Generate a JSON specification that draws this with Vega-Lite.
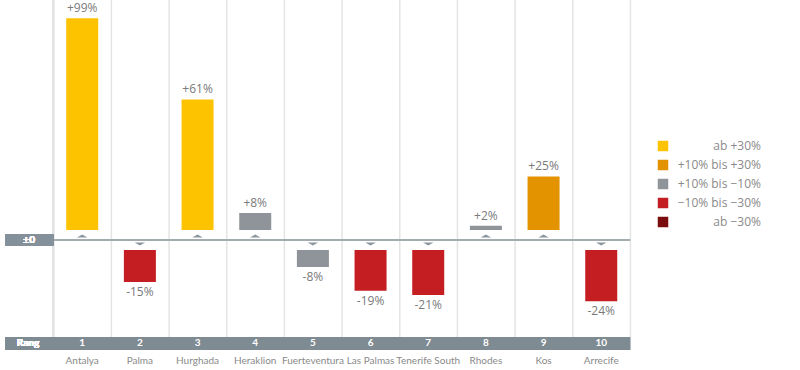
{
  "$schema": "https://vega.github.io/schema/vega-lite/v6.json",
  "width": 800,
  "height": 370,
  "autosize": {"type": "none"},
  "padding": 0,
  "config": {"view": {"stroke": null}, "font": "Open Sans", "text": {"font": "Open Sans"}},
  "data": {
    "values": [
      {"rank": 1, "city": "Antalya", "value": 99, "label": "+99%", "cat": "ab +30%"},
      {"rank": 2, "city": "Palma", "value": -15, "label": "-15%", "cat": "−10% bis −30%"},
      {"rank": 3, "city": "Hurghada", "value": 61, "label": "+61%", "cat": "ab +30%"},
      {"rank": 4, "city": "Heraklion", "value": 8, "label": "+8%", "cat": "+10% bis −10%"},
      {"rank": 5, "city": "Fuerteventura", "value": -8, "label": "-8%", "cat": "+10% bis −10%"},
      {"rank": 6, "city": "Las Palmas", "value": -19, "label": "-19%", "cat": "−10% bis −30%"},
      {"rank": 7, "city": "Tenerife South", "value": -21, "label": "-21%", "cat": "−10% bis −30%"},
      {"rank": 8, "city": "Rhodes", "value": 2, "label": "+2%", "cat": "+10% bis −10%"},
      {"rank": 9, "city": "Kos", "value": 25, "label": "+25%", "cat": "+10% bis +30%"},
      {"rank": 10, "city": "Arrecife", "value": -24, "label": "-24%", "cat": "−10% bis −30%"}
    ]
  },
  "layer": [
    {
      "mark": {"type": "rule", "xOffset": 29.2, "color": "#e4e4e4", "strokeWidth": 1.5},
      "encoding": {
        "x": {"field": "rank", "type": "quantitative", "scale": {"domain": [-0.339, 13.36], "nice": false, "zero": false}, "axis": null},
        "y": {"datum": 112.15, "type": "quantitative", "scale": {"domain": [-60.75, 112.15], "nice": false, "zero": false}, "axis": null},
        "y2": {"datum": -45.3}
      }
    },
    {
      "mark": {"type": "rule", "color": "#e4e4e4", "strokeWidth": 1.5},
      "encoding": {
        "x": {"datum": 0.5, "type": "quantitative"},
        "y": {"datum": 112.15, "type": "quantitative"},
        "y2": {"datum": -45.3}
      }
    },
    {
      "mark": {"type": "rule", "color": "#a3abb0", "strokeWidth": 1},
      "encoding": {
        "x": {"datum": 0.5, "type": "quantitative"},
        "x2": {"datum": 10.5},
        "y": {"datum": 0, "type": "quantitative"}
      }
    },
    {
      "mark": {"type": "rect", "color": "#85919a"},
      "encoding": {
        "x": {"datum": -0.339, "type": "quantitative"},
        "x2": {"datum": 0.5},
        "y": {"datum": 2.8, "type": "quantitative"},
        "y2": {"datum": -2.8}
      }
    },
    {
      "mark": {"type": "text", "color": "white", "fontSize": 10, "fontWeight": "bold", "baseline": "middle", "align": "center", "font": "Lato"},
      "encoding": {
        "x": {"datum": 0.08, "type": "quantitative"},
        "y": {"datum": 0, "type": "quantitative"},
        "text": {"value": "±0"}
      }
    },
    {
      "transform": [{"filter": "datum.value > 0"}],
      "mark": {"type": "bar", "width": 32, "yOffset": -10, "y2Offset": -10},
      "encoding": {
        "x": {"field": "rank", "type": "quantitative"},
        "y": {"field": "value", "type": "quantitative"},
        "y2": {"datum": 0},
        "color": {
          "field": "cat", "type": "nominal",
          "scale": {
            "domain": ["ab +30%", "+10% bis +30%", "+10% bis −10%", "−10% bis −30%", "ab −30%"],
            "range": ["#fdc300", "#e39200", "#8e9499", "#c41e23", "#7a0e0e"]
          },
          "legend": {
            "orient": "none", "legendX": 657, "legendY": 140, "title": null,
            "symbolType": "square", "symbolSize": 110, "symbolStrokeWidth": 0,
            "labelAlign": "right", "labelOffset": 92, "labelFontSize": 12,
            "labelColor": "#8a8a8a", "labelFont": "Open Sans", "rowPadding": 7, "labelLimit": 200
          }
        }
      }
    },
    {
      "transform": [{"filter": "datum.value < 0"}],
      "mark": {"type": "bar", "width": 32, "yOffset": 10, "y2Offset": 10},
      "encoding": {
        "x": {"field": "rank", "type": "quantitative"},
        "y": {"field": "value", "type": "quantitative"},
        "y2": {"datum": 0},
        "color": {"field": "cat", "type": "nominal"}
      }
    },
    {
      "transform": [{"filter": "datum.value > 0"}],
      "mark": {"type": "point", "shape": "M-1,0.3L0,-0.3L1,0.3Z", "filled": true, "size": 110, "color": "#8a959c", "opacity": 1, "yOffset": -4},
      "encoding": {
        "x": {"field": "rank", "type": "quantitative"},
        "y": {"datum": 0, "type": "quantitative"}
      }
    },
    {
      "transform": [{"filter": "datum.value < 0"}],
      "mark": {"type": "point", "shape": "M-1,-0.3L0,0.3L1,-0.3Z", "filled": true, "size": 110, "color": "#8a959c", "opacity": 1, "yOffset": 4},
      "encoding": {
        "x": {"field": "rank", "type": "quantitative"},
        "y": {"datum": 0, "type": "quantitative"}
      }
    },
    {
      "transform": [{"filter": "datum.value > 0"}],
      "mark": {"type": "text", "color": "#7a7a7a", "fontSize": 12, "baseline": "middle", "yOffset": -20},
      "encoding": {
        "x": {"field": "rank", "type": "quantitative"},
        "y": {"field": "value", "type": "quantitative"},
        "text": {"field": "label"}
      }
    },
    {
      "transform": [{"filter": "datum.value < 0"}],
      "mark": {"type": "text", "color": "#7a7a7a", "fontSize": 12, "baseline": "middle", "yOffset": 20},
      "encoding": {
        "x": {"field": "rank", "type": "quantitative"},
        "y": {"field": "value", "type": "quantitative"},
        "text": {"field": "label"}
      }
    },
    {
      "mark": {"type": "rect", "color": "#7f8b92"},
      "encoding": {
        "x": {"datum": -0.339, "type": "quantitative"},
        "x2": {"datum": 10.5},
        "y": {"datum": -45.3, "type": "quantitative"},
        "y2": {"datum": -51.4}
      }
    },
    {
      "mark": {"type": "text", "color": "white", "fontSize": 10, "fontWeight": "bold", "baseline": "middle", "align": "center", "font": "Lato"},
      "encoding": {
        "x": {"datum": 0.06, "type": "quantitative"},
        "y": {"datum": -48.35, "type": "quantitative"},
        "text": {"value": "Rang"}
      }
    },
    {
      "mark": {"type": "text", "color": "white", "fontSize": 10, "fontWeight": "bold", "baseline": "middle", "align": "center", "font": "Lato"},
      "encoding": {
        "x": {"field": "rank", "type": "quantitative"},
        "y": {"datum": -48.35, "type": "quantitative"},
        "text": {"field": "rank", "type": "nominal"}
      }
    },
    {
      "mark": {"type": "text", "color": "#8a8a8a", "fontSize": 10, "baseline": "middle", "align": "center", "font": "Lato"},
      "encoding": {
        "x": {"field": "rank", "type": "quantitative"},
        "y": {"datum": -56.5, "type": "quantitative"},
        "text": {"field": "city"}
      }
    }
  ]
}
